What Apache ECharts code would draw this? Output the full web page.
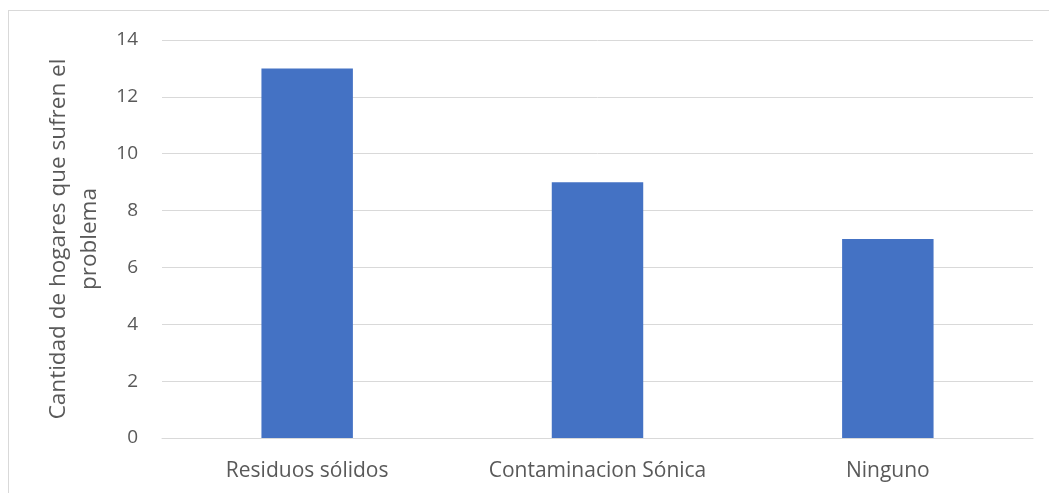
<!DOCTYPE html>
<html><head><meta charset="utf-8">
<script src="https://cdn.jsdelivr.net/npm/echarts@6/dist/echarts.min.js"></script>
<style>html,body{margin:0;padding:0;background:#fff;}#c{width:1049px;height:493px;}
#frame{position:absolute;left:8px;top:10px;width:1060px;height:500px;border:1px solid #d9d9d9;pointer-events:none;}</style>
</head><body>
<div id="frame"></div>
<div id="c"></div>
<script>
const categories = ['Residuos sólidos', 'Contaminacion Sónica', 'Ninguno'];
const values = [13, 9, 7];
const yTitle = 'Cantidad de hogares que sufren el\nproblema';

const chart = echarts.init(document.getElementById('c'), null, {renderer: 'canvas'});
chart.setOption({
  animation: false,
  textStyle: {fontFamily: 'Open Sans, sans-serif'},
  grid: {left: 162, right: 16, top: 40, bottom: 55, containLabel: false},
  xAxis: {
    type: 'category', data: categories,
    axisLine: {lineStyle: {color: '#d9d9d9', width: 1}},
    axisTick: {show: false},
    axisLabel: {color: '#595959', fontSize: 21, margin: 23}
  },
  yAxis: {
    type: 'value', min: 0, max: 14, interval: 2,
    axisLine: {show: false}, axisTick: {show: false},
    splitLine: {lineStyle: {color: '#d9d9d9', width: 1}},
    axisLabel: {color: '#595959', fontSize: 19, margin: 24},
    name: yTitle, nameLocation: 'middle', nameGap: 50, nameRotate: 90,
    nameTextStyle: {color: '#595959', fontSize: 22.5, lineHeight: 31}
  },
  series: [{
    type: 'bar', data: values, barWidth: '31.5%',
    itemStyle: {color: '#4472c4'}
  }]
});
</script>
</body></html>
